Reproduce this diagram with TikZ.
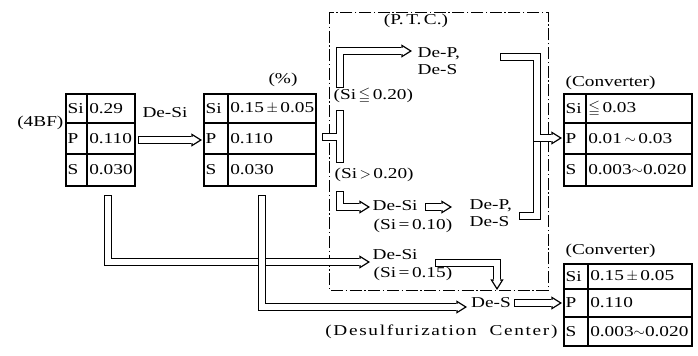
\documentclass[tikz,border=0pt]{standalone}
\usepackage{fontspec}
\usepackage{amssymb}
\setmainfont{Liberation Serif}[FakeStretch=1.28]
\usetikzlibrary{arrows.meta}
\tikzset{
  pipe/.style={line width=6pt, -{Triangle[length=8pt,width=10pt,line width=0pt]},
    postaction={draw=white, line width=4pt, shorten <=1pt, shorten >=1.9pt,
      -{Triangle[length=5.1pt,width=6.4pt,line width=0pt]}}},
  duct/.style={line width=6pt,
    postaction={draw=white, line width=4pt, shorten <=1pt, shorten >=1pt}},
  stub/.style={line width=6pt,
    postaction={draw=white, line width=4pt, shorten <=1pt}},
  elem/.style={anchor=west, inner sep=1pt},
  val/.style={anchor=west, inner sep=1.5pt},
  lbl/.style={inner sep=1pt},
  grid/.style={line width=0.8pt},
  ptc/.style={line width=0.5pt, dash pattern=on 9pt off 2pt on 1pt off 2pt}
}
% grid of a composition table: left, divider, right, top, row 1, row 2, bottom
\newcommand{\tabgrid}[7]{%
  \draw[grid] (#1,#4) rectangle (#3,#7);
  \draw[grid] (#2,#4) -- (#2,#7) (#1,#5) -- (#3,#5) (#1,#6) -- (#3,#6);}
\begin{document}
\begin{tikzpicture}[x=0.75pt,y=-0.75pt,every node/.style={font=\fontsize{11.3}{12.5}\selectfont}]
\useasboundingbox (0,0) rectangle (698,355);

% P.T.C. frame
\draw[ptc] (329,12) rectangle (548,290);
\node[lbl] (ptc) at (416,21) {(P.\,T.\,C.)};

% tables
\tabgrid{66}{87}{135}{94}{123}{154}{186}
\node[lbl,anchor=east] (bf) at (65,123) {(4BF)};
\foreach \el/\val/\y [count=\i] in {Si/0.29/108.5, P/0.110/138.5, S/0.030/170}{
  \node[elem] (bf-e\i) at (66,\y) {\el};
  \node[val] (bf-v\i) at (87,\y) {\val};
}
\tabgrid{204}{228}{316}{94}{123}{154}{186}
\node[lbl] (pct) at (283,80) {(\%)};
\foreach \el/\val/\y [count=\i] in {Si/{0.15\,$\pm$\,0.05}/108.5, P/0.110/138.5, S/0.030/170}{
  \node[elem] (ds-e\i) at (204,\y) {\el};
  \node[val] (ds-v\i) at (228,\y) {\val};
}
\tabgrid{564}{586}{692}{94}{123}{154}{186}
\node[lbl,anchor=west] (cv1) at (564,83) {(Converter)};
\foreach \el/\val/\y [count=\i] in {Si/{$\leqq$\,0.03}/108.5, P/{0.01\,$\sim$\,0.03}/138.5, S/{0.003$\sim$0.020}/170}{
  \node[elem] (cv1-e\i) at (564,\y) {\el};
  \node[val] (cv1-v\i) at (586,\y) {\val};
}
\tabgrid{564}{588}{692}{264}{289}{317}{346}
\node[lbl,anchor=west] (cv2) at (564,251) {(Converter)};
\foreach \el/\val/\y [count=\i] in {Si/{0.15\,$\pm$\,0.05}/276.5, P/0.110/303, S/{0.003$\sim$0.020}/331.5}{
  \node[elem] (cv2-e\i) at (564,\y) {\el};
  \node[val] (cv2-v\i) at (588,\y) {\val};
}

% labels
\node[lbl] (desi1) at (165,113) {De-Si};
\node[lbl,anchor=west] (lo20) at (332,96) {(Si\,$\leqq$\,0.20)};
\node[lbl,anchor=west] (hi20) at (333,175) {(Si\,$>$\,0.20)};
\node[lbl,anchor=west,align=left] (dps1) at (416,61) {De-P,\\De-S};
\node[lbl,anchor=west] (desi10) at (371,206) {De-Si};
\node[lbl,anchor=west] (si10) at (372,226) {(Si\,=\,0.10)};
\node[lbl,anchor=west,align=left] (dps2) at (468,213) {De-P,\\De-S};
\node[lbl,anchor=west] (desi15) at (371,255) {De-Si};
\node[lbl,anchor=west] (si15) at (372,274) {(Si\,=\,0.15)};
\node[lbl] (des) at (491,303) {De-S};
\node[lbl,anchor=east] (dsc) at (559,332) {\addfontfeature{LetterSpace=11}(Desulfurization\ \ Center)};

% pipe ends
\coordinate (bf-out) at (108,195);
\coordinate (ds-out) at (262,195);
\coordinate (fork-in) at (322,137);
\coordinate (fork-join) at (337.3,137);
\coordinate (fork-top) at (340,110);
\coordinate (fork-bot) at (340,163);
\coordinate (hi-start) at (340,88);
\coordinate (hi-end) at (412,51);
\coordinate (lo-start) at (340,191);
\coordinate (lo-end) at (370,207);
\coordinate (mid-a) at (425,207);
\coordinate (mid-b) at (452,207);
\coordinate (col-a) at (500,57);
\coordinate (col-b) at (537,138);
\coordinate (col-c) at (519,216);
\coordinate (col-d) at (537,140.7);
\coordinate (cv1-in) at (562,138);
\coordinate (d15-out) at (435,263);
\coordinate (des-in) at (497,290);
\coordinate (des-out) at (514,303);
\coordinate (cv2-in) at (562,303);
\coordinate (bf-r) at (138,140);
\coordinate (ds-l) at (202,140);

% pipes
\draw[pipe] (bf-r) -- (ds-l);
\draw[pipe] (bf-out) |- (370,262);
\draw[pipe] (ds-out) |- (467,307);
\draw[duct] (fork-top) -- (fork-bot);
\draw[stub] (fork-in) -- (fork-join);
\draw[pipe] (hi-start) |- (hi-end);
\draw[pipe] (lo-start) |- (lo-end);
\draw[pipe] (mid-a) -- (mid-b);
\draw[stub] (col-c) -| (col-d);
\draw[pipe] (col-a) -| (col-b) -- (cv1-in);
\draw[pipe] (d15-out) -| (des-in);
\draw[pipe] (des-out) -- (cv2-in);
\end{tikzpicture}
\end{document}
